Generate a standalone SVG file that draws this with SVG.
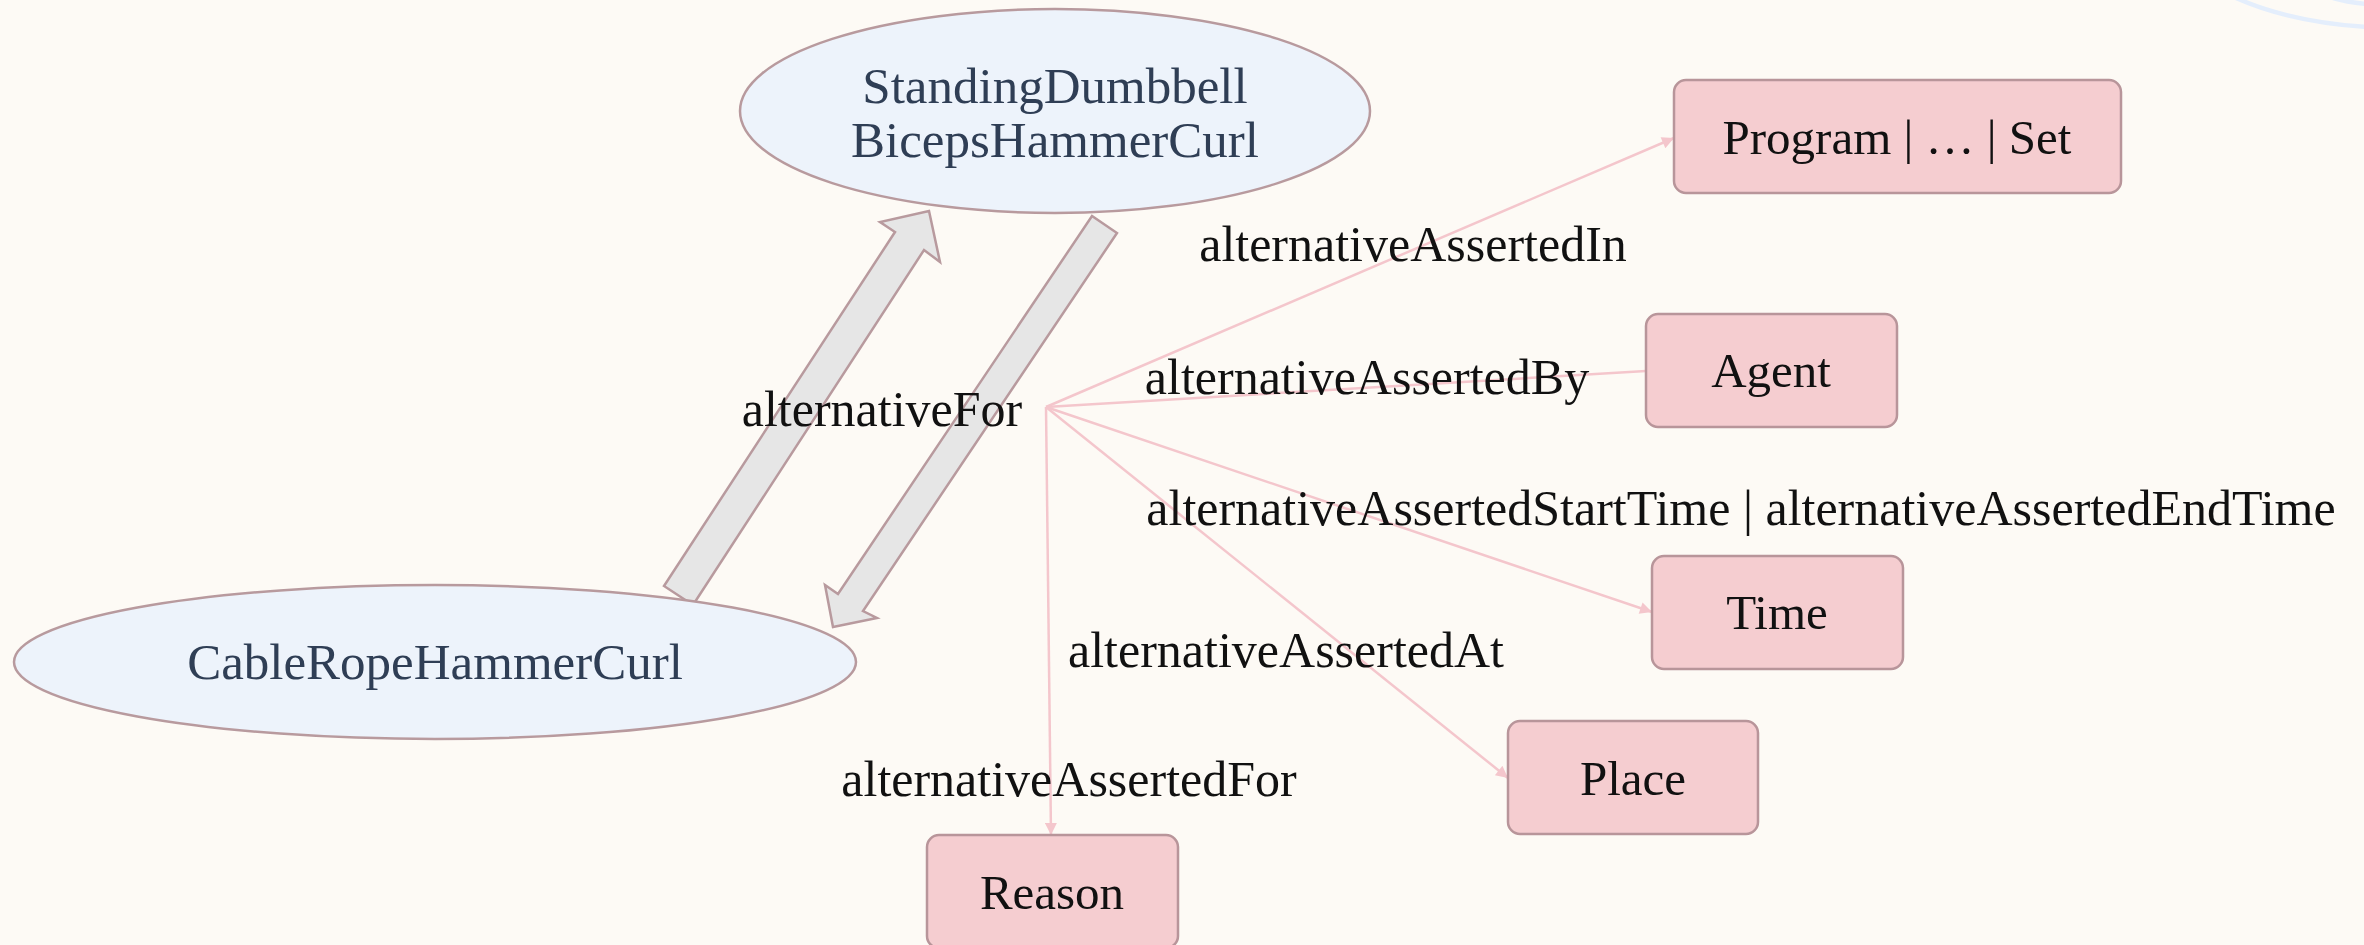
<svg xmlns="http://www.w3.org/2000/svg" width="2364" height="945" viewBox="0 0 2364 945">
  <style>
    .bg { fill: #fdfaf5; }
    .cls { fill: #edf3fb; stroke: #b89a9e; stroke-width: 2.5; }
    .cls-text { font-family: "Liberation Serif", "DejaVu Serif", serif; font-size: 51px; fill: #2f3e55; text-anchor: middle; dominant-baseline: central; }
    .box { fill: #f5cdd0; stroke: #b8959a; stroke-width: 2.5; }
    .box-text { font-family: "Liberation Serif", "DejaVu Serif", serif; font-size: 49px; fill: #111; text-anchor: middle; dominant-baseline: central; }
    .edge { fill: none; stroke: #f4c6cc; stroke-width: 2.5; }
    .label { font-family: "Liberation Serif", "DejaVu Serif", serif; font-size: 50px; fill: #111; text-anchor: middle; dominant-baseline: central; }
    .block { fill: #e6e6e6; stroke: #b89a9e; stroke-width: 2.5; stroke-linejoin: miter; }
    .halo { fill: none; stroke: #e4eefc; stroke-width: 4.5; }
  </style>
  <defs>
    <marker id="tip" viewBox="0 0 10 10" refX="10" refY="5" markerUnits="userSpaceOnUse" markerWidth="16" markerHeight="12" orient="auto">
      <path d="M0,0 L10,5 L0,10 z" fill="#f4c6cc"/>
    </marker>
  </defs>

  <rect class="bg" x="0" y="0" width="2364" height="945"/>

  <!-- faint ring in the top-right corner -->
  <path class="halo" d="M2236,-2 Q2290,22 2366,27"/>
  <path class="halo" d="M2333,-2 Q2347,2 2366,4"/>

  <g id="connectors">
    <!-- reified statement hub to its qualifier classes -->
    <line class="edge" x1="1046" y1="407" x2="1674" y2="138" marker-end="url(#tip)"/>
    <line class="edge" x1="1046" y1="407" x2="1646" y2="371"/>
    <line class="edge" x1="1046" y1="407" x2="1652" y2="612" marker-end="url(#tip)"/>
    <line class="edge" x1="1046" y1="407" x2="1508" y2="778" marker-end="url(#tip)"/>
    <line class="edge" x1="1046" y1="407" x2="1051" y2="835" marker-end="url(#tip)"/>

    <!-- alternativeFor block arrows between the two exercises -->
    <polygon class="block" points="664,586 895,232 880,222 929,211 940,262 924,250 693,605"/>
    <polygon class="block" points="1117,233 863,611 877,618 833,627 825,585 838,594 1092,216"/>

    <text class="label" x="882" y="409">alternativeFor</text>
    <text class="label" x="1413" y="244">alternativeAssertedIn</text>
    <text class="label" x="1367" y="377">alternativeAssertedBy</text>
    <text class="label" x="1741" y="508">alternativeAssertedStartTime | alternativeAssertedEndTime</text>
    <text class="label" x="1286" y="650">alternativeAssertedAt</text>
    <text class="label" x="1069" y="779">alternativeAssertedFor</text>
  </g>

  <g id="StandingDumbbellBicepsHammerCurl">
    <ellipse class="cls" cx="1055" cy="111" rx="315" ry="102"/>
    <text class="cls-text" x="1055" y="86">StandingDumbbell</text>
    <text class="cls-text" x="1055" y="140">BicepsHammerCurl</text>
  </g>

  <g id="CableRopeHammerCurl">
    <ellipse class="cls" cx="435" cy="662" rx="421" ry="77"/>
    <text class="cls-text" x="435" y="662">CableRopeHammerCurl</text>
  </g>

  <g id="Program">
    <rect class="box" x="1674" y="80" width="447" height="113" rx="12"/>
    <text class="box-text" x="1897" y="137">Program | … | Set</text>
  </g>

  <g id="Agent">
    <rect class="box" x="1646" y="314" width="251" height="113" rx="12"/>
    <text class="box-text" x="1771" y="370">Agent</text>
  </g>

  <g id="Time">
    <rect class="box" x="1652" y="556" width="251" height="113" rx="12"/>
    <text class="box-text" x="1777" y="612">Time</text>
  </g>

  <g id="Place">
    <rect class="box" x="1508" y="721" width="250" height="113" rx="12"/>
    <text class="box-text" x="1633" y="778">Place</text>
  </g>

  <g id="Reason">
    <rect class="box" x="927" y="835" width="251" height="113" rx="12"/>
    <text class="box-text" x="1052" y="892">Reason</text>
  </g>
</svg>
